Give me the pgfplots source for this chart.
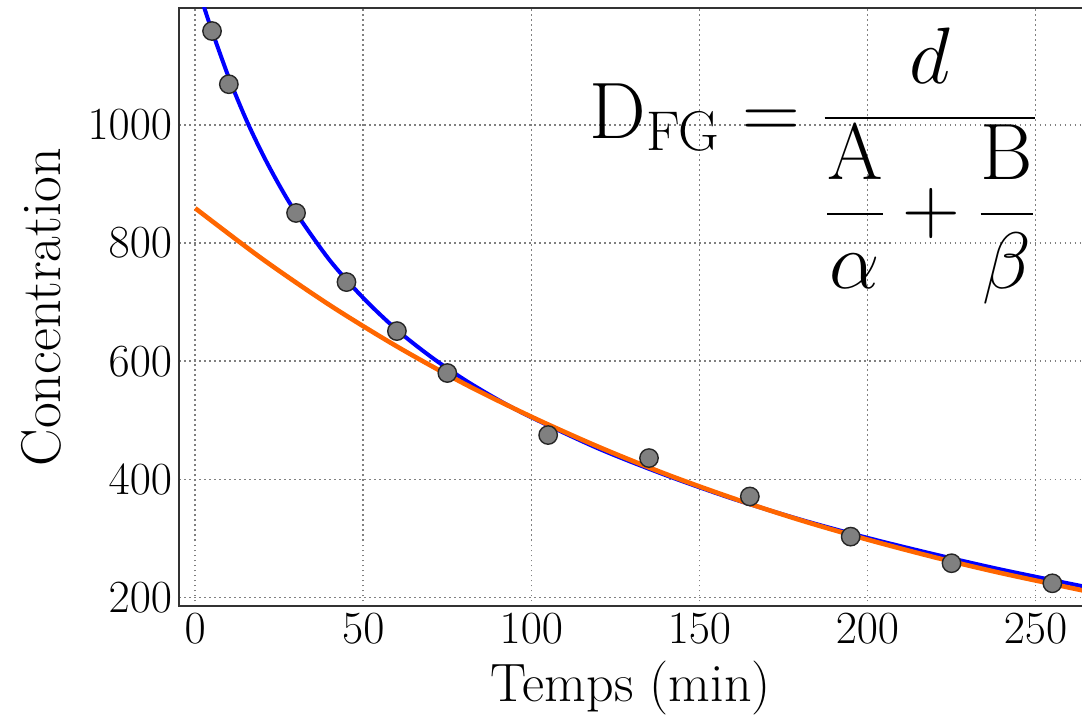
\RequirePackage{fix-cm}
\documentclass[border=0pt]{standalone}
\usepackage{amsmath}
\usepackage{pgfplots}
\pgfplotsset{compat=1.18}

\definecolor{fitblue}{RGB}{0,0,255}
\definecolor{fitorange}{RGB}{255,102,0}
\definecolor{markgray}{RGB}{128,128,128}

\begin{document}
\begin{tikzpicture}
\begin{axis}[
    name=ax,
    scale only axis,
    width=451.5pt,
    height=299pt,
    xmin=-4.8, xmax=264,
    ymin=185, ymax=1198,
    xtick={0,50,...,250},
    ytick={200,400,...,1000},
    /pgf/number format/1000 sep={},
    grid=major,
    grid style={gray, line width=0.8pt, dash pattern=on 0.9pt off 1.6pt},
    axis line style={black!80, line width=0.9pt},
    tick style={draw=none},
    ticklabel style={font=\fontsize{23}{23}\selectfont},
    xlabel={Temps (min)},
    ylabel={Concentration},
    every axis x label/.style={at={(axis description cs:0.5,0)}, anchor=center, yshift=-41pt,
        font=\fontsize{27}{27}\selectfont},
    every axis y label/.style={at={(axis description cs:0,0.5)}, xshift=-69pt, rotate=90, anchor=center,
        font=\fontsize{28}{28}\selectfont},
]
% measured points
\addplot[only marks, mark=*, mark size=4.6pt,
    mark options={fill=markgray, draw=black!85, line width=0.7pt}] coordinates {
    (5,1159) (10,1069) (30,851) (45,734) (60,651) (75,580)
    (105,475) (135,436) (165,371) (195,303) (225,258) (255,224)
};

% bi-exponential fit
\addplot[fitblue, line width=2pt, smooth] coordinates {
    (2.6,1200) (5,1159) (10,1080) (15,1011) (20,951) (25,898) (30,851)
    (40,771) (50,707) (60,653) (70,608) (80,569) (90,535) (100,505)
    (120,452) (140,407) (160,367) (180,332) (200,301) (220,273) (240,247) (264,219)
};

% mono-exponential fit
\addplot[fitorange, line width=2.3pt, smooth] coordinates {
    (0,859) (20,773) (40,695) (60,625) (80,562) (100,506) (120,455)
    (140,409) (160,368) (180,331) (200,298) (220,268) (240,241) (264,212)
};

\node[anchor=center, inner sep=0pt] at (axis cs:184,930)
    {\fontsize{40}{48}\selectfont
     $\mathrm{D}_{\mathrm{FG}} = \dfrac{d}{\dfrac{\mathrm{A}}{\alpha}+\dfrac{\mathrm{B}}{\beta}}$};
\end{axis}
\pgfresetboundingbox
\path ([xshift=-89.5pt,yshift=-55.5pt]ax.south west) rectangle ([xshift=-0.3pt,yshift=4pt]ax.north east);
\end{tikzpicture}
\end{document}
